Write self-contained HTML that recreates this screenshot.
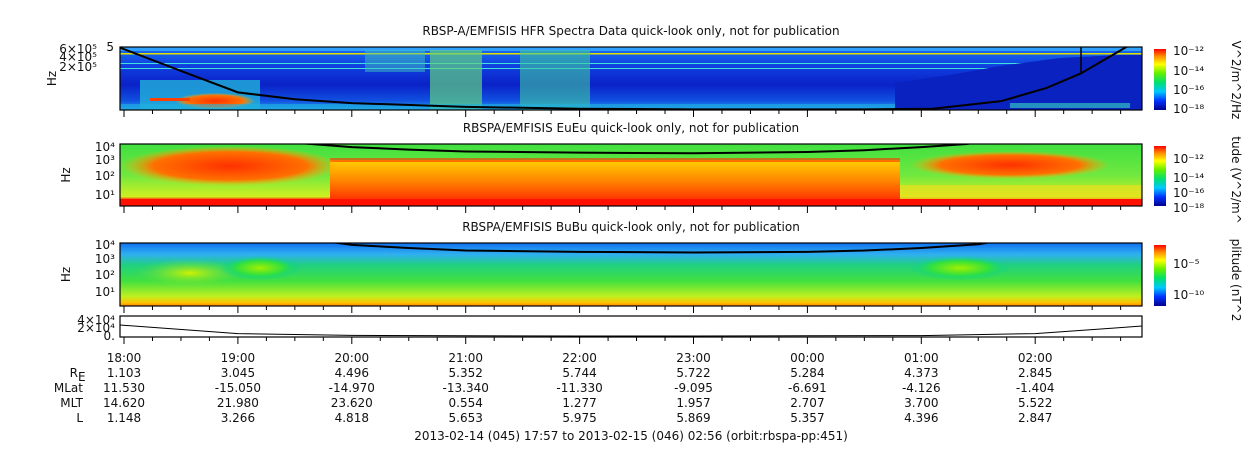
<!DOCTYPE html>
<html><head><meta charset="utf-8"><style>
body{margin:0;background:#fff;}
svg{display:block;font-family:"DejaVu Sans","Liberation Sans",sans-serif;}
text{fill:#111;font-size:12px;}
</style></head><body>
<svg id="c" width="1250" height="449" viewBox="0 0 1250 449">
<defs>
<linearGradient id="cbar" x1="0" y1="1" x2="0" y2="0">
<stop offset="0" stop-color="#00008c"/><stop offset="0.15" stop-color="#0030ff"/><stop offset="0.3" stop-color="#00c8ff"/><stop offset="0.45" stop-color="#00e070"/><stop offset="0.6" stop-color="#60f000"/><stop offset="0.75" stop-color="#ffff00"/><stop offset="0.88" stop-color="#ff9000"/><stop offset="1" stop-color="#ff0000"/>
</linearGradient>
<linearGradient id="p1bg" x1="0" y1="0" x2="0" y2="1">
<stop offset="0" stop-color="#1a70f0"/><stop offset="0.3" stop-color="#1040e0"/><stop offset="0.6" stop-color="#0a22c8"/><stop offset="0.85" stop-color="#1050e0"/><stop offset="1" stop-color="#20a0f0"/>
</linearGradient>
<linearGradient id="p2bg" x1="0" y1="0" x2="0" y2="1">
<stop offset="0" stop-color="#40e040"/><stop offset="0.5" stop-color="#70e840"/><stop offset="0.85" stop-color="#d0f020"/><stop offset="0.9" stop-color="#ff2000"/><stop offset="1" stop-color="#ff1000"/>
</linearGradient>
<linearGradient id="p2mid" x1="0" y1="0" x2="0" y2="1">
<stop offset="0" stop-color="#ffd000"/><stop offset="0.5" stop-color="#ff8000"/><stop offset="1" stop-color="#ff2000"/>
</linearGradient>
<linearGradient id="p3bg" x1="0" y1="0" x2="0" y2="1">
<stop offset="0" stop-color="#1070f0"/><stop offset="0.18" stop-color="#30b0f0"/><stop offset="0.35" stop-color="#20d080"/><stop offset="0.6" stop-color="#40e040"/><stop offset="0.85" stop-color="#c0f020"/><stop offset="0.95" stop-color="#ffc000"/><stop offset="1" stop-color="#ff8000"/>
</linearGradient>
<radialGradient id="blobO"><stop offset="0" stop-color="#ff3000"/><stop offset="0.7" stop-color="#ff7000"/><stop offset="1" stop-color="#ffb000" stop-opacity="0"/></radialGradient>
<radialGradient id="blobY"><stop offset="0" stop-color="#d0f000"/><stop offset="1" stop-color="#60e040" stop-opacity="0"/></radialGradient>
<radialGradient id="blobG"><stop offset="0" stop-color="#a0f000"/><stop offset="0.6" stop-color="#30e040"/><stop offset="1" stop-color="#00d0a0" stop-opacity="0"/></radialGradient>
</defs>
<g id="g"></g>
</svg>
<script>
const NS="http://www.w3.org/2000/svg";
const g=document.getElementById('g');
// ---- data ----
const timeLabels=["18:00","19:00","20:00","21:00","22:00","23:00","00:00","01:00","02:00"];
const timeHours=[0,1,2,3,4,5,6,7,8];
const reVals=["1.103","3.045","4.496","5.352","5.744","5.722","5.284","4.373","2.845"];
const mlatVals=["11.530","-15.050","-14.970","-13.340","-11.330","-9.095","-6.691","-4.126","-1.404"];
const mltVals=["14.620","21.980","23.620","0.554","1.277","1.957","2.707","3.700","5.522"];
const lVals=["1.148","3.266","4.818","5.653","5.975","5.869","5.357","4.396","2.847"];
// plasma-frequency curve: hours, fraction from panel top
const curveT1=[-0.05,0.5,1,1.5,2,3,4,5,6,6.5,7.1,7.7,8.1,8.4,8.8,9.05];
const curve1=[0.0,0.38,0.72,0.83,0.89,0.95,0.98,0.99,0.99,0.99,0.98,0.86,0.65,0.42,0.0,-0.2];
const curveT2=[1.3,1.5,2,2.5,3,4,5,6,6.5,7,7.4,7.7];
const curve2=[-0.2,-0.02,0.05,0.09,0.12,0.14,0.15,0.13,0.1,0.05,0.0,-0.1];
const curveT3=[1.5,1.8,2,2.5,3,4,5,6,6.5,7,7.5,7.9];
const curve3=[-0.2,-0.02,0.03,0.08,0.12,0.14,0.15,0.14,0.12,0.08,0.02,-0.1];
const rangeT=[-0.05,1,2,3,4,5,6,7,8,8.7,9.05];
const rangeV=[0.55,0.12,0.03,0.01,0.0,0.0,0.01,0.02,0.12,0.4,0.5];
// ---- axes ----
const X0=124,PXH=113.9,L=120,R=1142;
const xs=h=>X0+h*PXH;
function el(t,a,p){const e=document.createElementNS(NS,t);for(const k in a)e.setAttribute(k,a[k]);(p||g).appendChild(e);return e;}
function tx(x,y,s,anchor,size){const e=el('text',{x:x,y:y,'text-anchor':anchor||'middle','font-size':size||12});e.textContent=s;return e;}
const panels=[{y:47,h:63,bg:'url(#p1bg)',title:"RBSP-A/EMFISIS  HFR Spectra Data quick-look only, not for publication",t:curveT1,c:curve1},
{y:144,h:62,bg:'url(#p2bg)',title:"RBSPA/EMFISIS  EuEu quick-look only, not for publication",t:curveT2,c:curve2},
{y:243,h:63,bg:'url(#p3bg)',title:"RBSPA/EMFISIS  BuBu quick-look only, not for publication",t:curveT3,c:curve3}];
panels.forEach((p,i)=>{
  const pg=el('g',{});
  
  
  el('rect',{x:L,y:p.y,width:R-L,height:p.h,fill:p.bg},pg);
  const cp=el('clipPath',{id:'cp'+i},pg);el('rect',{x:L,y:p.y,width:R-L,height:p.h},cp);
  const f=el('g',{'clip-path':'url(#cp'+i+')'},pg);
  if(i==0){
    el('rect',{x:L,y:p.y,width:R-L,height:4,fill:'#30a0ff'},f);
    el('rect',{x:L,y:53,width:R-L,height:1.5,fill:'#e0e000'},f);
    el('rect',{x:L,y:63,width:R-L,height:1,fill:'#40e0e0'},f);
    el('rect',{x:L,y:68,width:R-L,height:1,fill:'#40e0e0'},f);
    el('rect',{x:430,y:50,width:52,height:60,fill:'#60d080',opacity:0.7},f);
    el('rect',{x:520,y:50,width:70,height:60,fill:'#40c8a0',opacity:0.6},f);
    el('rect',{x:365,y:50,width:60,height:22,fill:'#40c0c0',opacity:0.5},f);
    el('rect',{x:140,y:80,width:120,height:30,fill:'#20b0d8',opacity:0.8},f);
    el('ellipse',{cx:215,cy:101,rx:40,ry:8,fill:'url(#blobO)'},f);
    el('rect',{x:150,y:98,width:40,height:3,fill:'#ff4000'},f);
    el('polygon',{points:'895,110 895,83 950,75 1000,66 1060,58 1120,55 1142,55 1142,110',fill:'#0a22c0'},f);
    el('rect',{x:L,y:104,width:775,height:6,fill:'#20b0e0',opacity:0.6},f);
    el('rect',{x:1010,y:103,width:120,height:5,fill:'#30c0c0',opacity:0.7},f);
  }else if(i==1){
    el('rect',{x:330,y:160,width:570,height:44,fill:'url(#p2mid)'},f);
    el('rect',{x:330,y:158,width:570,height:4,fill:'#ff3000',opacity:0.6},f);
    el('ellipse',{cx:230,cy:166,rx:110,ry:20,fill:'url(#blobO)'},f);
    el('ellipse',{cx:1010,cy:165,rx:100,ry:14,fill:'url(#blobO)'},f);
    el('rect',{x:900,y:185,width:242,height:15,fill:'#e8e020',opacity:0.7},f);
    el('rect',{x:L,y:199,width:R-L,height:6,fill:'#ff1000'},f);
  }else{
    el('ellipse',{cx:190,cy:273,rx:55,ry:14,fill:'url(#blobY)'},f);
    el('ellipse',{cx:260,cy:268,rx:40,ry:12,fill:'url(#blobG)'},f);
    el('ellipse',{cx:960,cy:268,rx:50,ry:12,fill:'url(#blobG)'},f);
  }
  let d='';p.t.forEach((t,k)=>{d+=(k?'L':'M')+xs(t)+','+(p.y+p.c[k]*p.h);});
  const cv=el('path',{d:d,fill:'none',stroke:'#000','stroke-width':2},f);
  
  
  if(i==0){const vl=el('line',{x1:1081,x2:1081,y1:47,y2:73,stroke:'#000','stroke-width':1.5},f);
    }
  el('rect',{x:L,y:p.y,width:R-L,height:p.h,fill:'none',stroke:'#000','stroke-width':1.2},pg);
  const t=tx(631,p.y-12,p.title);
  
  
  const hz=tx(0,0,'Hz');hz.setAttribute('transform','translate('+(i==0?56:70)+','+(p.y+p.h/2)+') rotate(-90)');
  
  
  const cb=el('rect',{x:1154,y:p.y+2,width:12,height:p.h-2,fill:'url(#cbar)'},pg);
  
  
});
// x ticks
[110,206,306,337].forEach(by=>{
  for(let q=-0.25;q<=9;q+=0.25){const x=xs(q);if(x<L||x>R)continue;
    const major=Math.abs(q-Math.round(q))<1e-6;
    el('line',{x1:x,x2:x,y1:by,y2:by+(major?7:4),stroke:'#000'});}
});
// y labels
const yl=[[114,51,"5"],[97,53,"6×10⁵"],[97,61,"4×10⁵"],[97,71,"2×10⁵"],
[115,151,"10⁴"],[115,164,"10³"],[115,180,"10²"],[115,199,"10¹"],
[115,249,"10⁴"],[115,263,"10³"],[115,279,"10²"],[115,296,"10¹"],
[115,324,"4×10⁴"],[115,332,"2×10⁴"],[115,340,"0."]];
yl.forEach(a=>{const t=tx(a[0],a[1],a[2],'end',12);});
const cbl=[[1173,55,"10⁻¹²"],[1173,75,"10⁻¹⁴"],[1173,94,"10⁻¹⁶"],[1173,113,"10⁻¹⁸"],
[1173,163,"10⁻¹²"],[1173,182,"10⁻¹⁴"],[1173,197,"10⁻¹⁶"],[1173,212,"10⁻¹⁸"],
[1173,268,"10⁻⁵"],[1173,299,"10⁻¹⁰"]];
cbl.forEach(a=>{const t=tx(a[0],a[1],a[2],'start',12);});
[["V^2/m^2/Hz",80],["tude (V^2/m^",180],["plitude (nT^2",280]].forEach(a=>{const t=tx(0,0,a[0]);t.setAttribute('transform','translate(1232,'+a[1]+') rotate(90)');});
{const p4=el('rect',{x:L,y:316,width:R-L,height:21,fill:'#fff',stroke:'#000','stroke-width':1.2});
 
 let d='';rangeT.forEach((t,k)=>{d+=(k?'L':'M')+Math.max(L,Math.min(R,xs(t)))+','+(336-rangeV[k]*20);});
 const rl=el('path',{d:d,fill:'none',stroke:'#000','stroke-width':1});
 }
const rows=[timeLabels,reVals,mlatVals,mltVals,lVals];const ry=[362,377,392,407,422];
timeHours.forEach((h,k)=>{rows.forEach((r,j)=>{const t=tx(xs(h),ry[j],r[k]);});});
[["R",377],["MLat",392],["MLT",407],["L",422]].forEach(a=>{const t=tx(a[0]=="R"?78:83,a[1],a[0],'end');});
tx(78,381,'E','start',6);
const ft=tx(631,440,"2013-02-14 (045) 17:57 to 2013-02-15 (046) 02:56 (orbit:rbspa-pp:451)");

</script>
</body></html>
